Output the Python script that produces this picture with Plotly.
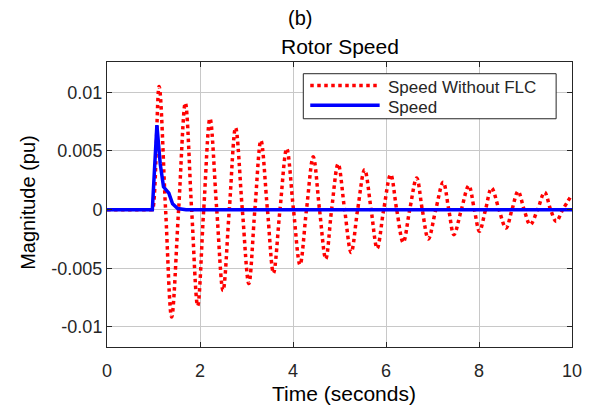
import plotly.graph_objects as go

# Red dotted: "Speed Without FLC" (extrema and zero crossings)
t_nofl = [0.0, 0.96, 0.98, 1.12, 1.26, 1.39, 1.54, 1.685, 1.82, 1.95, 2.08, 2.215, 2.36, 2.495, 2.63,
          2.765, 2.91, 3.05, 3.18, 3.31, 3.45, 3.58, 3.72, 3.865, 4.01, 4.15, 4.29, 4.435, 4.57,
          4.705, 4.83, 4.97, 5.11, 5.25, 5.39, 5.54, 5.68, 5.81, 5.95, 6.10, 6.23, 6.37, 6.51,
          6.66, 6.78, 6.91, 7.07, 7.23, 7.35, 7.46, 7.62, 7.78, 7.90, 8.01, 8.14, 8.27, 8.43,
          8.58, 8.71, 8.84, 8.97, 9.10, 9.26, 9.41, 9.54, 9.66, 9.80, 10.0]
v_nofl = [0.0, 0.0, 0.0, 0.0105, 0.0, -0.00915, 0.0, 0.0091, 0.0, -0.0082, 0.0, 0.00778, 0.0, -0.0069, 0.0,
          0.0070, 0.0, -0.0063, 0.0, 0.0059, 0.0, -0.0054, 0.0, 0.0052, 0.0, -0.0047, 0.0, 0.0045, 0.0,
          -0.0042, 0.0, 0.0039, 0.0, -0.00365, 0.0, 0.0034, 0.0, -0.0033, 0.0, 0.0030, 0.0, -0.0028, 0.0,
          0.0027, 0.0, -0.0025, 0.0, 0.00234, 0.0, -0.00214, 0.0, 0.00205, 0.0, -0.00185, 0.0, 0.00185, 0.0,
          -0.00157, 0.0, 0.00157, 0.0, -0.00128, 0.0, 0.00148, 0.0, -0.0010, 0.0, 0.00128]

# Blue solid: "Speed" (with FLC)
t_fl = [0.0, 0.975, 1.073, 1.145, 1.215, 1.30, 1.33, 1.41, 1.52, 1.70, 10.0]
v_fl = [0.0, 0.0, 0.0072, 0.0039, 0.00195, 0.00155, 0.0014, 0.0005, 0.0001, 0.0, 0.0]

x_ticks = [0, 2, 4, 6, 8, 10]
y_ticks = [-0.01, -0.005, 0, 0.005, 0.01]
y_ticklabels = ["-0.01", "-0.005", "0", "0.005", "0.01"]

legend_names = ["Speed Without FLC", "Speed"]

FONT = "Liberation Sans, Arial, sans-serif"
AX = "#262626"
GRID = "#c8c8c8"

fig = go.Figure()
fig.add_trace(go.Scatter(x=t_nofl, y=v_nofl, mode="lines", name=legend_names[0],
                         line=dict(color="#ff0000", width=3.5, dash="dot", shape="spline"),
                         showlegend=False))
fig.add_trace(go.Scatter(x=t_fl, y=v_fl, mode="lines", name=legend_names[1],
                         line=dict(color="#0000ff", width=3.5),
                         showlegend=False))

ph = 284.7
def py(px):
    return 1 - (px - 62) / ph
def pxx(px):
    return (px - 107) / 469

# custom legend box
fig.add_shape(type="rect", xref="paper", yref="paper", x0=pxx(305), x1=pxx(560), y0=py(118.7), y1=py(73.7),
              line=dict(color=AX, width=1), fillcolor="white", layer="above")
fig.add_shape(type="line", xref="paper", yref="paper", x0=pxx(312), x1=pxx(380), y0=py(85.5), y1=py(85.5),
              line=dict(color="#ff0000", width=3.5, dash="dot"), layer="above")
fig.add_shape(type="line", xref="paper", yref="paper", x0=pxx(312), x1=pxx(382), y0=py(105.3), y1=py(105.3),
              line=dict(color="#0000ff", width=3.5), layer="above")
fig.add_annotation(text=legend_names[0], xref="paper", yref="paper", x=pxx(388), y=py(87.5),
                   xanchor="left", yanchor="middle", showarrow=False,
                   font=dict(family=FONT, size=17, color=AX))
fig.add_annotation(text=legend_names[1], xref="paper", yref="paper", x=pxx(388), y=py(107),
                   xanchor="left", yanchor="middle", showarrow=False,
                   font=dict(family=FONT, size=17, color=AX))

# titles
fig.add_annotation(text="Rotor Speed", xref="paper", yref="paper", x=pxx(342), y=py(47),
                   xanchor="center", yanchor="middle", showarrow=False,
                   font=dict(family=FONT, size=21, color="black"))
fig.add_annotation(text="(b)", xref="paper", yref="paper", x=pxx(302), y=py(18),
                   xanchor="center", yanchor="middle", showarrow=False,
                   font=dict(family=FONT, size=20, color="black"))
fig.add_annotation(text="Time (seconds)", xref="paper", yref="paper", x=pxx(346), y=py(393),
                   xanchor="center", yanchor="middle", showarrow=False,
                   font=dict(family=FONT, size=21, color="black"))
fig.add_annotation(text="Magnitude (pu)", xref="paper", yref="paper", x=pxx(27), y=py(202),
                   xanchor="center", yanchor="middle", showarrow=False, textangle=-90,
                   font=dict(family=FONT, size=20, color="black"))

fig.update_layout(
    width=594, height=405,
    margin=dict(l=107, r=18, t=62, b=58),
    paper_bgcolor="white", plot_bgcolor="white",
    font=dict(family=FONT, size=17, color=AX),
)
fig.update_xaxes(range=[0, 10], tickvals=x_ticks, ticks="inside", ticklen=5, tickcolor=AX,
                 showline=True, linecolor=AX, linewidth=1, mirror="ticks",
                 showgrid=True, gridcolor=GRID, gridwidth=1, zeroline=False,
                 tickfont=dict(family=FONT, size=18, color=AX), ticklabelstandoff=7)
fig.update_yaxes(range=[-0.011706, 0.012585], tickvals=y_ticks, ticktext=y_ticklabels,
                 ticks="inside", ticklen=5, tickcolor=AX,
                 showline=True, linecolor=AX, linewidth=1, mirror="ticks",
                 showgrid=True, gridcolor=GRID, gridwidth=1, zeroline=False,
                 tickfont=dict(family=FONT, size=18, color=AX))

fig.write_html("out.html", config={"displayModeBar": False},
               post_script="document.body.style.margin='0';document.body.style.overflow='hidden';")
